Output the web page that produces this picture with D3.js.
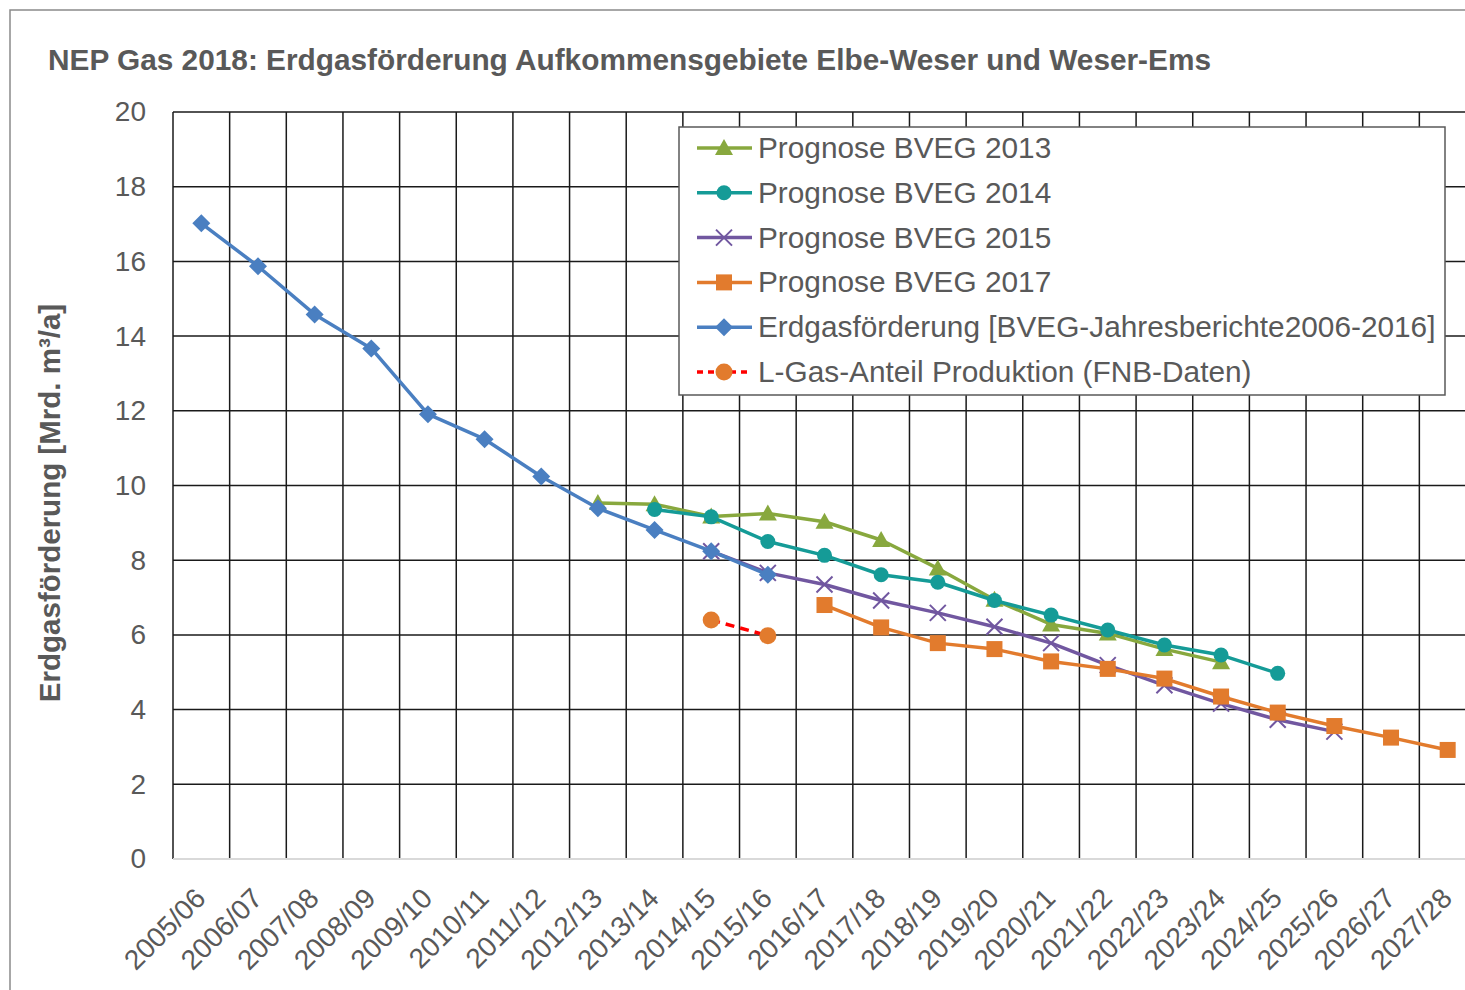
<!DOCTYPE html>
<html>
<head>
<meta charset="utf-8">
<script src="https://cdn.jsdelivr.net/npm/d3@7"></script>
<style>
  body { margin: 0; background: #fff; }
  svg { display: block; font-family: "Liberation Sans", Arial, sans-serif; }
</style>
</head>
<body>
<div id="chart"></div>
<script>
const categories = ["2005/06", "2006/07", "2007/08", "2008/09", "2009/10", "2010/11", "2011/12",
    "2012/13", "2013/14", "2014/15", "2015/16", "2016/17", "2017/18", "2018/19", "2019/20",
    "2020/21", "2021/22", "2022/23", "2023/24", "2024/25", "2025/26", "2026/27", "2027/28"];

const yTicks = [0, 2, 4, 6, 8, 10, 12, 14, 16, 18, 20];

// each series starts at the category given by its "start" value
const prognose2013 = [9.53, 9.50, 9.17, 9.25, 9.03, 8.54, 7.78, 6.94, 6.28, 6.04, 5.62, 5.27];
const prognose2013Start = "2012/13";
const prognose2014 = [9.36, 9.16, 8.50, 8.13, 7.61, 7.41, 6.92, 6.53, 6.13, 5.73, 5.46, 4.97];
const prognose2014Start = "2013/14";
const prognose2015 = [8.24, 7.66, 7.35, 6.92, 6.59, 6.22, 5.78, 5.19, 4.65, 4.16, 3.73, 3.41];
const prognose2015Start = "2014/15";
const prognose2017 = [6.80, 6.20, 5.78, 5.62, 5.29, 5.09, 4.83, 4.35, 3.92, 3.56, 3.25, 2.92];
const prognose2017Start = "2016/17";
const foerderung = [17.02, 15.87, 14.58, 13.67, 11.91, 11.24, 10.24, 9.39, 8.81, 8.24, 7.61];
const foerderungStart = "2005/06";
const lgasAnteil = [6.40, 5.98];
const lgasStart = "2014/15";

const legendLabels = ["Prognose BVEG 2013", "Prognose BVEG 2014", "Prognose BVEG 2015",
    "Prognose BVEG 2017", "Erdgasförderung [BVEG-Jahresberichte2006-2016]",
    "L-Gas-Anteil Produktion (FNB-Daten)"];

const W = 1465, H = 990;
const textColor = "#595959";
const plot = { left: 173, top: 112, bottom: 859, right: 1476 };

function toPoints(values, start) {
    const i0 = categories.indexOf(start);
    return values.map((v, i) => ({ cat: categories[i0 + i], value: v }));
}

const series = [
    { name: legendLabels[0], data: toPoints(prognose2013, prognose2013Start), color: "#88a83e", marker: "triangle" },
    { name: legendLabels[1], data: toPoints(prognose2014, prognose2014Start), color: "#159b97", marker: "circle" },
    { name: legendLabels[2], data: toPoints(prognose2015, prognose2015Start), color: "#7157a0", marker: "cross" },
    { name: legendLabels[3], data: toPoints(prognose2017, prognose2017Start), color: "#e27b2d", marker: "square" },
    { name: legendLabels[4], data: toPoints(foerderung, foerderungStart), color: "#4a7fc1", marker: "diamond" },
    { name: legendLabels[5], data: toPoints(lgasAnteil, lgasStart), color: "#ff0000", marker: "bigcircle", markerColor: "#e27b2d", dash: "9,6" }
];

const svg = d3.select("#chart").append("svg")
    .attr("width", W)
    .attr("height", H);

// outer chart frame
svg.append("rect")
    .attr("x", 10).attr("y", 10)
    .attr("width", W + 20).attr("height", H + 20)
    .attr("fill", "#fff")
    .attr("stroke", "#8a8a8a")
    .attr("stroke-width", 1.5);

svg.append("text")
    .attr("x", 48).attr("y", 70)
    .attr("fill", textColor)
    .attr("font-size", 29.8)
    .attr("font-weight", "bold")
    .text("NEP Gas 2018: Erdgasförderung Aufkommensgebiete Elbe-Weser und Weser-Ems");

// scales
let x = d3.scaleBand().domain(categories).range([plot.left, plot.right]).padding(0);
let y = d3.scaleLinear().domain([0, 20]).range([plot.bottom, plot.top]);
const cx = d => x(d) + x.bandwidth() / 2;

// grid
const grid = svg.append("g");
grid.selectAll(".hgrid")
    .data(yTicks.filter(t => t > 0))
    .enter().append("line")
    .attr("x1", plot.left).attr("x2", plot.right)
    .attr("y1", d => y(d)).attr("y2", d => y(d))
    .attr("stroke", "#1a1a1a").attr("stroke-width", 1.5);

grid.selectAll(".vgrid")
    .data(categories.map(c => x(c)).concat([plot.right]))
    .enter().append("line")
    .attr("x1", d => d).attr("x2", d => d)
    .attr("y1", plot.top).attr("y2", plot.bottom)
    .attr("stroke", "#1a1a1a").attr("stroke-width", 1.5);

// x axis baseline
svg.append("line")
    .attr("x1", plot.left).attr("x2", plot.right)
    .attr("y1", y(0)).attr("y2", y(0))
    .attr("stroke", "#d9d9d9").attr("stroke-width", 2);

// y axis
const yAxis = svg.append("g")
    .attr("transform", `translate(${plot.left},0)`)
    .call(d3.axisLeft(y).tickValues(yTicks).tickSize(0).tickPadding(27));
yAxis.select(".domain").remove();
yAxis.selectAll("text")
    .attr("fill", textColor)
    .attr("font-size", 28)
    .attr("font-family", "Liberation Sans, Arial, sans-serif");

// x axis labels, rotated
const xAxis = svg.append("g")
    .attr("transform", `translate(0,${plot.bottom})`)
    .call(d3.axisBottom(x).tickSize(0).tickFormat(d => d));
xAxis.select(".domain").remove();
xAxis.selectAll("text")
    .attr("fill", textColor)
    .attr("font-size", 28)
    .attr("font-family", "Liberation Sans, Arial, sans-serif")
    .style("text-anchor", "end")
    .attr("x", 6)
    .attr("y", 41)
    .attr("dy", 0)
    .attr("transform", "rotate(-45, 6, 41)");

svg.append("text")
    .attr("transform", "translate(60,503) rotate(-90)")
    .attr("text-anchor", "middle")
    .attr("fill", textColor)
    .attr("font-size", 29.5)
    .attr("font-weight", "bold")
    .text("Erdgasförderung [Mrd. m³/a]");

// markers
function drawMarker(sel, type, color) {
    if (type === "triangle") {
        sel.append("path").attr("d", "M0,-9L9,7L-9,7Z").attr("fill", color);
    } else if (type === "circle") {
        sel.append("circle").attr("r", 7.5).attr("fill", color);
    } else if (type === "bigcircle") {
        sel.append("circle").attr("r", 8.5).attr("fill", color);
    } else if (type === "square") {
        sel.append("rect").attr("x", -8).attr("y", -8).attr("width", 16).attr("height", 16).attr("fill", color);
    } else if (type === "diamond") {
        sel.append("path").attr("d", "M0,-9L9,0L0,9L-9,0Z").attr("fill", color);
    } else if (type === "cross") {
        sel.append("path").attr("d", "M-8,-8L8,8M-8,8L8,-8")
            .attr("stroke", color).attr("stroke-width", 2).attr("fill", "none");
    }
}

const line = d3.line()
    .x(d => cx(d.cat))
    .y(d => y(d.value));

const lines = svg.append("g");
series.forEach(s => {
    const g = lines.append("g");
    g.append("path")
        .datum(s.data)
        .attr("d", line)
        .attr("fill", "none")
        .attr("stroke", s.color)
        .attr("stroke-width", 3.5)
        .attr("stroke-linejoin", "round")
        .attr("stroke-dasharray", s.dash || null);
    g.selectAll(".pt")
        .data(s.data)
        .enter().append("g")
        .attr("transform", d => `translate(${cx(d.cat)},${y(d.value)})`)
        .each(function () { drawMarker(d3.select(this), s.marker, s.markerColor || s.color); });
});

// legend
const legend = svg.append("g");
legend.append("rect")
    .attr("x", 679).attr("y", 127)
    .attr("width", 766).attr("height", 268)
    .attr("fill", "#fff")
    .attr("stroke", "#595959")
    .attr("stroke-width", 1.5);

const rowY = d3.scaleLinear().domain([0, 5]).range([148, 372]);
series.forEach((s, i) => {
    const row = legend.append("g").attr("transform", `translate(0,${rowY(i)})`);
    row.append("line")
        .attr("x1", 697).attr("x2", 752)
        .attr("stroke", s.color).attr("stroke-width", 3.5)
        .attr("stroke-dasharray", s.dash ? "6,5" : null);
    drawMarker(row.append("g").attr("transform", "translate(724,0)"), s.marker, s.markerColor || s.color);
    row.append("text")
        .attr("x", 758).attr("y", 10)
        .attr("fill", textColor)
        .attr("font-size", 29.8)
        .text(s.name);
});
</script>
</body>
</html>
